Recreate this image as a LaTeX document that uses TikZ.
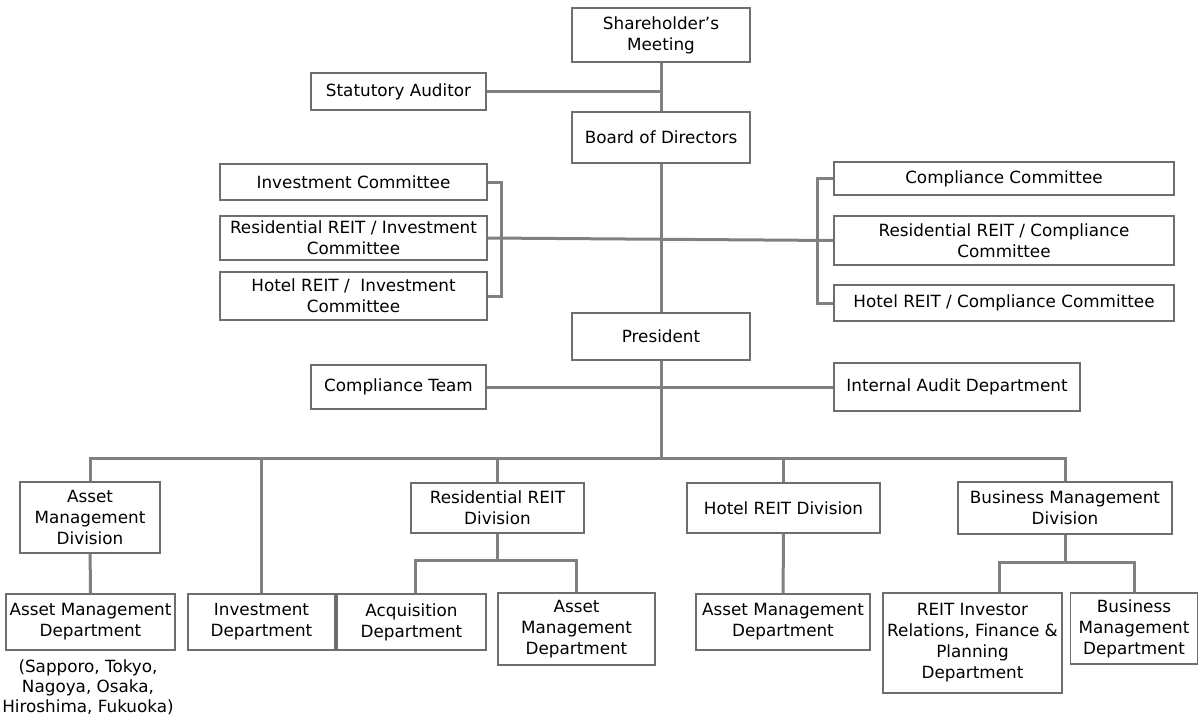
\documentclass[tikz,border=0pt]{standalone}
\usepackage{fontspec}
\setmainfont{DejaVu Sans}

\definecolor{linegray}{HTML}{808080}
\definecolor{boxgray}{HTML}{6E6E6E}

\begin{document}
\begin{tikzpicture}[x=1pt,y=-1pt,
    box/.style={draw=boxgray,line width=1.2pt,fill=white,align=center,inner sep=0pt,
      font=\fontsize{16.8}{21}\selectfont},
    conn/.style={draw=linegray,line width=3pt}]
  \useasboundingbox (0,0) rectangle (1199,718);
  % top of the chart
  \node[box,minimum width=178,minimum height=54] (sh) at (661,35) {Shareholder’s\\Meeting};
  \node[box,minimum width=175,minimum height=37] (aud) at (398.5,91.5) {Statutory Auditor};
  \node[box,minimum width=178,minimum height=51] (bod) at (661,137.5) {Board of Directors};
  % committees
  \node[box,minimum width=267,minimum height=36] (ic) at (353.5,182) {Investment Committee};
  \node[box,minimum width=267,minimum height=44] (ric) at (353.5,238) {Residential REIT / Investment\\Committee};
  \node[box,minimum width=267,minimum height=48] (hic) at (353.5,296) {Hotel REIT / \ Investment\\Committee};
  \node[box,minimum width=340,minimum height=33] (cc) at (1004,178.5) {Compliance Committee};
  \node[box,minimum width=340,minimum height=49] (rcc) at (1004,240.5) {Residential REIT / Compliance\\Committee};
  \node[box,minimum width=340,minimum height=36] (hcc) at (1004,303) {Hotel REIT / Compliance Committee};
  % president
  \node[box,minimum width=178,minimum height=47] (pres) at (661,336.5) {President};
  \node[box,minimum width=175,minimum height=44] (ct) at (398.5,387) {Compliance Team};
  \node[box,minimum width=246,minimum height=48] (iad) at (957,387) {Internal Audit Department};
  % divisions
  \node[box,minimum width=140,minimum height=71] (amdiv) at (90,517.5) {Asset\\Management\\Division};
  \node[box,minimum width=173,minimum height=50] (rdiv) at (497.5,508) {Residential REIT\\Division};
  \node[box,minimum width=193,minimum height=50] (hdiv) at (783.5,508) {Hotel REIT Division};
  \node[box,minimum width=214,minimum height=52] (bmdiv) at (1065,508) {Business Management\\Division};
  % departments
  \node[box,minimum width=169,minimum height=56] (amdept) at (90.5,622) {Asset Management\\Department};
  \node[box,minimum width=147,minimum height=56] (invd) at (261.5,622) {Investment\\Department};
  \node[box,minimum width=149,minimum height=56] (acq) at (411.5,622) {Acquisition\\Department};
  \node[box,minimum width=157,minimum height=72] (ramd) at (576.5,629) {Asset\\Management\\Department};
  \node[box,minimum width=174,minimum height=56] (hamd) at (783,622) {Asset Management\\Department};
  \node[box,minimum width=179,minimum height=100] (irf) at (972.5,643) {REIT Investor\\Relations, Finance \&\\Planning\\Department};
  \node[box,minimum width=127,minimum height=71] (bmdept) at (1134,628.5) {Business\\Management\\Department};
  \node[align=center,inner sep=0pt,font=\fontsize{16.8}{20}\selectfont] (offices) at (88,687)
    {(Sapporo, Tokyo,\\Nagoya, Osaka,\\Hiroshima, Fukuoka)};

  % connectors
  \draw[conn] (sh) -- (bod);
  \draw[conn] (aud.east) -- (aud.east -| sh);
  \draw[conn] (bod) -- (pres);
  \draw[conn] (ic.east) -- ++(14,0) |- (hic.east);
  \draw[conn] (cc.west) -- ++(-16,0) |- (hcc.west);
  \draw[conn] (ric.east) -- (rcc.west);
  \draw[conn] (ct.east) -- (iad.west);
  \coordinate (bar) at (661,458);
  \draw[conn] (pres) -- (bar);
  \draw[conn] (amdiv.north) |- (bar) -| (bmdiv.north);
  \draw[conn] (invd.north) -- (invd.north |- bar);
  \draw[conn] (rdiv.north) -- (rdiv.north |- bar);
  \draw[conn] (hdiv.north) -- (hdiv.north |- bar);
  \draw[conn] (amdiv) -- (amdept);
  \draw[conn] (hdiv) -- (hamd);
  \draw[conn] (rdiv.south) -- ++(0,27) coordinate (rj);
  \draw[conn] ([xshift=4]acq.north) |- (rj) -| (ramd.north);
  \draw[conn] (bmdiv.south) -- ++(0,28) coordinate (bj);
  \draw[conn] ([xshift=27]irf.north) |- (bj) -| (bmdept.north);
\end{tikzpicture}
\end{document}
